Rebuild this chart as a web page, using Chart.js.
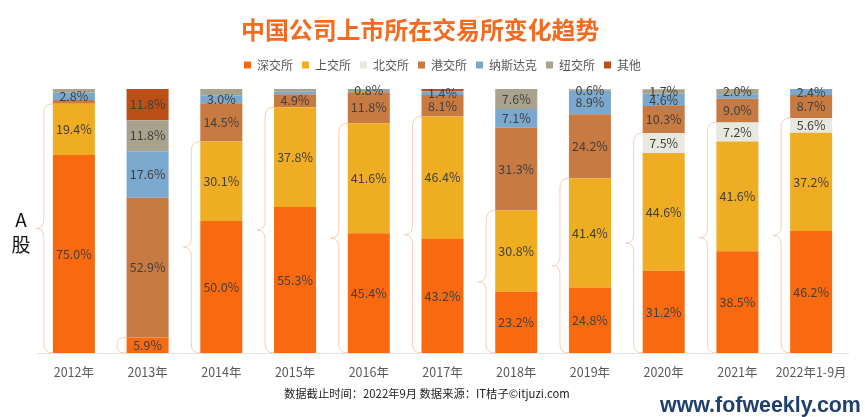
<!DOCTYPE html>
<html>
<head>
<meta charset="utf-8">
<script src="https://cdn.jsdelivr.net/npm/chart.js@4/dist/chart.umd.min.js"></script>
<style>
    html, body { margin: 0; padding: 0; background: #fff; }
    #wrap { position: relative; width: 865px; height: 417px; overflow: hidden; font-family: "Noto Sans CJK SC", sans-serif; }
    #wrap div { position: absolute; white-space: nowrap; }
    #title { left: 241px; top: 12px; font-size: 23.9px; line-height: 34px; font-weight: 700; color: #F46A1E; }
    #aShare { left: 9px; top: 206px; width: 24px; text-align: center; font-size: 19px; line-height: 25px; color: #111; }
    #source { left: 284px; top: 385px; font-size: 11.3px; line-height: 16px; color: #222; }
    #site { left: 660px; top: 393px; font-family: "Liberation Sans", sans-serif; font-size: 21.4px; line-height: 24px; font-weight: 700; color: #1F3F6E; }
</style>
</head>
<body>
<div id="wrap">
    <canvas id="chart" width="865" height="417"></canvas>
    <div id="title">中国公司上市所在交易所变化趋势</div>
    <div id="aShare">A<br>股</div>
    <div id="source">数据截止时间：2022年9月 数据来源：IT桔子©itjuzi.com</div>
    <div id="site">www.fofweekly.com</div>
</div>
<script>
const years = ['2012年', '2013年', '2014年', '2015年', '2016年', '2017年', '2018年', '2019年', '2020年', '2021年', '2022年1-9月'];

const shenzhen = [75.0, 5.9, 50.0, 55.3, 45.4, 43.2, 23.2, 24.8, 31.2, 38.5, 46.2];
const shanghai = [19.4, 0, 30.1, 37.8, 41.6, 46.4, 30.8, 41.4, 44.6, 41.6, 37.2];
const beijing = [0, 0, 0, 0, 0, 0, 0, 0, 7.5, 7.2, 5.6];
const hongkong = [1.4, 52.9, 14.5, 4.9, 11.8, 8.1, 31.3, 24.2, 10.3, 9.0, 8.7];
const nasdaq = [2.8, 17.6, 3.0, 1.0, 0.4, 1.4, 7.1, 8.9, 4.6, 1.7, 2.4];
const nyse = [1.4, 11.8, 2.4, 1.0, 0.8, 0, 7.6, 0.6, 1.7, 2.0, 0];
const others = [0, 11.8, 0, 0, 0, 0.9, 0, 0, 0, 0, 0];

// slivers that carry no printed label in the picture: exchange -> year indexes
const unlabelled = {
    '港交所': [0],
    '纳斯达克': [3, 4, 9],
    '纽交所': [0, 2, 3],
    '其他': [5]
};

const datasets = [
    { label: '深交所', data: shenzhen, backgroundColor: '#F96A10' },
    { label: '上交所', data: shanghai, backgroundColor: '#EEAD22' },
    { label: '北交所', data: beijing, backgroundColor: '#E7E8E0' },
    { label: '港交所', data: hongkong, backgroundColor: '#C87A43' },
    { label: '纳斯达克', data: nasdaq, backgroundColor: '#7BA8CE' },
    { label: '纽交所', data: nyse, backgroundColor: '#A9A38E' },
    { label: '其他', data: others, backgroundColor: '#BB4F17' }
];

// extra gap under the legend, without widening the gaps between its items
const legendGap = {
    id: 'legendGap',
    start(chart) {
        chart.$legendGapDone = false;
    },
    beforeLayout(chart) {
        if (chart.$legendGapDone) return;
        chart.$legendGapDone = true;
        const legend = chart.legend;
        const fit = legend.fit;
        legend.fit = function () {
            fit.call(this);
            this.height += 8;
        };
    }
};

// prints the value in the middle of each stacked segment
const segmentLabels = {
    id: 'segmentLabels',
    afterDatasetsDraw(chart) {
        const ctx = chart.ctx;
        ctx.save();
        ctx.font = '12.5px "Noto Sans CJK SC"';
        ctx.fillStyle = '#43403C';
        ctx.textAlign = 'center';
        ctx.textBaseline = 'middle';
        chart.data.datasets.forEach((dataset, i) => {
            const skip = unlabelled[dataset.label] || [];
            chart.getDatasetMeta(i).data.forEach((bar, j) => {
                const value = dataset.data[j];
                if (!value || skip.includes(j)) return;
                const p = bar.getCenterPoint();
                ctx.fillText(value.toFixed(1) + '%', p.x, p.y);
            });
        });
        ctx.restore();
    }
};

// thin curly brace beside each bar, spanning the three A-share exchanges
const aShareBraces = {
    id: 'aShareBraces',
    beforeDatasetsDraw(chart) {
        const ctx = chart.ctx;
        const y = chart.scales.y;
        ctx.save();
        ctx.strokeStyle = '#F7CDB8';
        ctx.lineWidth = 1;
        chart.getDatasetMeta(0).data.forEach((bar, j) => {
            const left = bar.x - bar.width / 2;
            const spine = left - 9;
            const top = y.getPixelForValue(shenzhen[j] + shanghai[j] + beijing[j]);
            const bottom = y.getPixelForValue(0);
            const mid = (top + bottom) / 2;
            const tip = spine - Math.min(8, (bottom - top) * 0.08);
            const bend = Math.min(9, (bottom - top) / 4);
            ctx.beginPath();
            ctx.moveTo(left, top);
            ctx.quadraticCurveTo(spine, top, spine, top + bend);
            ctx.lineTo(spine, mid - bend);
            ctx.quadraticCurveTo(spine, mid, tip, mid);
            ctx.quadraticCurveTo(spine, mid, spine, mid + bend);
            ctx.lineTo(spine, bottom - bend);
            ctx.quadraticCurveTo(spine, bottom, left, bottom);
            ctx.stroke();
        });
        ctx.restore();
    }
};

new Chart('chart', {
    type: 'bar',
    data: { labels: years, datasets: datasets },
    plugins: [legendGap, aShareBraces, segmentLabels],
    options: {
        responsive: false,
        animation: false,
        layout: { padding: { left: 37, right: 17, top: 50, bottom: 33 } },
        datasets: { bar: { categoryPercentage: 1, barPercentage: 0.57 } },
        scales: {
            x: {
                stacked: true,
                grid: { display: false },
                border: { color: '#E3E3E3' },
                ticks: { color: '#595959', font: { size: 12.5, family: '"Noto Sans CJK SC"' }, maxRotation: 0, autoSkip: false, padding: 4 }
            },
            y: { stacked: true, display: false, min: 0, max: 100 }
        },
        plugins: {
            tooltip: { enabled: false },
            legend: {
                position: 'top',
                labels: {
                    boxWidth: 7,
                    boxHeight: 7,
                    padding: 9,
                    color: '#595959',
                    font: { size: 12, family: '"Noto Sans CJK SC"' }
                }
            }
        }
    }
});
</script>
</body>
</html>
